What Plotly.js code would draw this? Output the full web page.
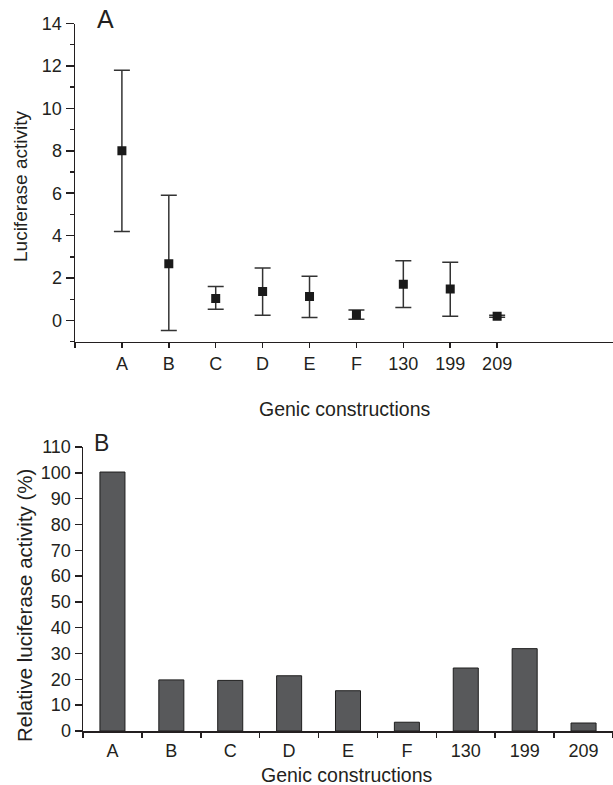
<!DOCTYPE html>
<html>
<head>
<meta charset="utf-8">
<script src="https://cdn.plot.ly/plotly-3.0.1.min.js"></script>
<style>html,body{margin:0;padding:0;background:#fff;}#chart{width:613px;height:785px;}</style>
</head>
<body>
<div id="chart"></div>
<script>
// ---- data ----
const constructs = ['A', 'B', 'C', 'D', 'E', 'F', '130', '199', '209'];
const activityMean = [8.0, 2.68, 1.04, 1.37, 1.13, 0.28, 1.71, 1.48, 0.20];
const activityUpper = [11.8, 5.9, 1.6, 2.47, 2.08, 0.49, 2.82, 2.75, 0.25];
const activityLower = [4.2, -0.47, 0.53, 0.25, 0.14, 0.06, 0.61, 0.20, 0.15];
const relativeActivity = [100.3, 19.8, 19.6, 21.4, 15.6, 3.4, 24.4, 31.9, 3.1];
const yTicksTop = [0, 2, 4, 6, 8, 10, 12, 14];
const yTicksBottom = [0, 10, 20, 30, 40, 50, 60, 70, 80, 90, 100, 110];

const W = 613, H = 785;
const px = v => v / W;
const py = v => 1 - v / H;
const FONT = 'Liberation Sans, Arial, Helvetica, sans-serif';
const ink = '#231f20';

const xPos = constructs.map((c, i) => i + 1);

const traces = [
  {
    type: 'scatter', mode: 'markers',
    x: xPos, y: activityMean,
    xaxis: 'x', yaxis: 'y',
    marker: {symbol: 'square', size: 9, color: '#1a1a1a'},
    error_y: {
      type: 'data', symmetric: false,
      array: activityUpper.map((u, i) => u - activityMean[i]),
      arrayminus: activityMean.map((m, i) => m - activityLower[i]),
      color: '#333333', thickness: 1.5, width: 8
    },
    hoverinfo: 'x+y'
  },
  {
    type: 'bar',
    x: constructs, y: relativeActivity,
    xaxis: 'x2', yaxis: 'y2',
    width: 0.425,
    marker: {color: '#58595b', line: {color: '#1e1e1e', width: 1}}
  }
];

const axisCommon = {
  showgrid: false, zeroline: false, showline: true,
  linecolor: ink, linewidth: 1.5,
  ticks: 'outside', tickcolor: ink, tickwidth: 1.5,
  tickfont: {family: FONT, size: 18, color: ink}
};

const layout = {
  width: W, height: H,
  margin: {l: 0, r: 0, t: 0, b: 0},
  paper_bgcolor: '#fff', plot_bgcolor: '#fff',
  showlegend: false,
  font: {family: FONT, color: ink},
  xaxis: Object.assign({}, axisCommon, {
    domain: [px(75), 1], range: [0, 11.47],
    tickmode: 'array', tickvals: [0].concat(xPos), ticktext: [''].concat(constructs),
    ticklen: 5, anchor: 'y'
  }),
  yaxis: Object.assign({}, axisCommon, {
    domain: [py(341.7), py(23.5)], range: [-1, 14],
    tickmode: 'array', tickvals: yTicksTop,
    ticklen: 8, anchor: 'x',
    minor: {ticks: 'outside', dtick: 1, tick0: 1, ticklen: 4, tickcolor: ink, tickwidth: 1.5, showgrid: false}
  }),
  xaxis2: Object.assign({}, axisCommon, {
    domain: [px(83), 1], range: [-0.5, 8.5], type: 'category',
    tickson: 'boundaries', ticklen: 5, anchor: 'y2', ticklabelstandoff: 3
  }),
  yaxis2: Object.assign({}, axisCommon, {
    domain: [py(731), py(447)], range: [0, 110],
    tickmode: 'array', tickvals: yTicksBottom,
    ticklen: 7, anchor: 'x2'
  }),
  annotations: [
    {text: 'A', x: px(105), y: py(19), xref: 'paper', yref: 'paper', showarrow: false,
     font: {family: FONT, size: 25, color: ink}, xanchor: 'center', yanchor: 'middle'},
    {text: 'B', x: px(101), y: py(443), xref: 'paper', yref: 'paper', showarrow: false,
     font: {family: FONT, size: 23, color: ink}, xanchor: 'center', yanchor: 'middle'},
    {text: 'Luciferase activity', x: px(21), y: py(186), xref: 'paper', yref: 'paper', showarrow: false,
     textangle: -90, font: {family: FONT, size: 19, color: ink}, xanchor: 'center', yanchor: 'middle'},
    {text: 'Genic constructions', x: px(344), y: py(409), xref: 'paper', yref: 'paper', showarrow: false,
     font: {family: FONT, size: 19.5, color: ink}, xanchor: 'center', yanchor: 'middle'},
    {text: 'Relative luciferase activity (%)', x: px(24), y: py(606), xref: 'paper', yref: 'paper', showarrow: false,
     textangle: -90, font: {family: FONT, size: 20.5, color: ink}, xanchor: 'center', yanchor: 'middle'},
    {text: 'Genic constructions', x: px(346), y: py(775), xref: 'paper', yref: 'paper', showarrow: false,
     font: {family: FONT, size: 19.5, color: ink}, xanchor: 'center', yanchor: 'middle'}
  ]
};

Plotly.newPlot('chart', traces, layout, {staticPlot: true, displayModeBar: false});
</script>
</body>
</html>
